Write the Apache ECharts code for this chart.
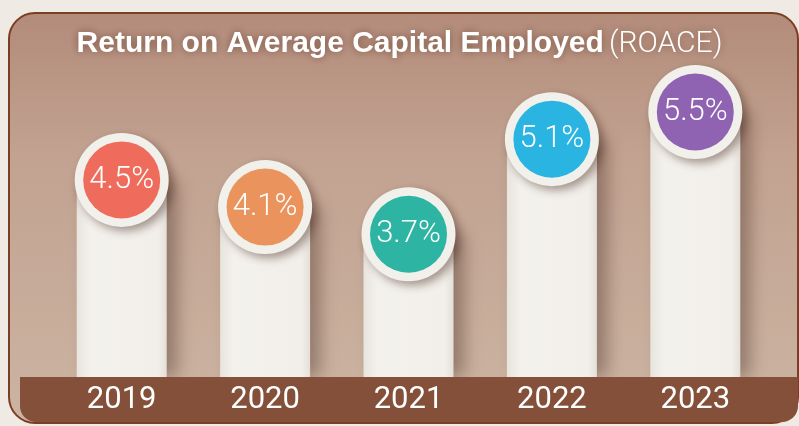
<!DOCTYPE html>
<html>
<head>
<meta charset="utf-8">
<script src="https://cdn.jsdelivr.net/npm/echarts@6/dist/echarts.min.js"></script>
<style>
  html, body { margin: 0; padding: 0; background: #efebe4; }
  #chart { width: 799px; height: 426px; }
</style>
</head>
<body>
<div id="chart"></div>
<script>
// ROACE by year
var years = ['2019', '2020', '2021', '2022', '2023'];
var roace = [4.5, 4.1, 3.7, 5.1, 5.5];
var discColors = ['#ef6c5c', '#ea935c', '#2db4a3', '#2ab4e2', '#8f63b2'];

var numFont = 'Roboto, "DejaVu Sans Condensed", sans-serif';

var chart = echarts.init(document.getElementById('chart'));

chart.setOption({
  animation: false,
  backgroundColor: '#efebe4',
  title: {
    text: '{b|Return on Average Capital Employed} {n|(ROACE)}',
    left: 'center',
    top: 24,
    padding: [5, 5, 5, 27],
    textStyle: {
      rich: {
        b: { fontFamily: 'Liberation Sans, Arial, sans-serif', fontWeight: 'bold', fontSize: 30, color: '#fff',
             textShadowColor: 'rgba(80,40,20,0.6)', textShadowBlur: 8 },
        n: { fontFamily: 'Roboto, sans-serif', fontWeight: 300, fontSize: 30, color: '#fff',
             textShadowColor: 'rgba(80,40,20,0.6)', textShadowBlur: 8 }
      }
    }
  },
  graphic: [
    {
      type: 'rect', z: -10,
      shape: { x: 9, y: 13, width: 789, height: 410, r: 26 },
      style: {
        fill: new echarts.graphic.LinearGradient(0, 0, 0, 1, [
          { offset: 0, color: '#b38b7a' },
          { offset: 0.35, color: '#c2a291' },
          { offset: 1, color: '#ccb4a2' }
        ]),
        stroke: '#7a3e22', lineWidth: 2
      }
    },
    {
      type: 'rect', z: 5,
      shape: { x: 20, y: 377, width: 778, height: 45, r: [0, 0, 16, 16] },
      style: { fill: '#84503a' }
    }
  ],
  grid: { left: 50, right: 32, top: 78, bottom: 49 },
  xAxis: {
    type: 'category',
    data: years,
    z: 10,
    axisLine: { show: false },
    axisTick: { show: false },
    axisLabel: { color: '#fff', fontSize: 31, fontFamily: numFont, margin: 8 }
  },
  yAxis: { type: 'value', min: 1.6, max: 6, show: false },
  series: [
    {
      type: 'bar',
      data: roace,
      barWidth: 90,
      z: 2,
      itemStyle: {
        color: new echarts.graphic.LinearGradient(0, 0, 1, 0, [
          { offset: 0, color: '#e8e4dd' },
          { offset: 0.15, color: '#f3f1ec' },
          { offset: 0.9, color: '#f2efea' },
          { offset: 1, color: '#e4dfd8' }
        ]),
        shadowColor: 'rgba(60,35,25,0.38)',
        shadowBlur: 16,
        shadowOffsetX: 10
      }
    },
    {
      type: 'scatter',
      data: roace,
      symbolSize: 94,
      z: 3,
      silent: true,
      itemStyle: {
        color: '#f2f0eb',
        opacity: 1,
        shadowColor: 'rgba(60,30,20,0.45)',
        shadowBlur: 10,
        shadowOffsetX: 4,
        shadowOffsetY: 4
      }
    },
    {
      type: 'scatter',
      data: roace.map(function (v, i) {
        return { value: v, itemStyle: { color: discColors[i] } };
      }),
      symbolSize: 77,
      z: 4,
      itemStyle: { opacity: 1 },
      label: {
        show: true,
        position: 'inside',
        color: '#fff',
        fontSize: 31,
        fontWeight: 300,
        fontFamily: numFont,
        formatter: function (p) { return p.value.toFixed(1) + '%'; }
      }
    }
  ]
});
</script>
</body>
</html>
